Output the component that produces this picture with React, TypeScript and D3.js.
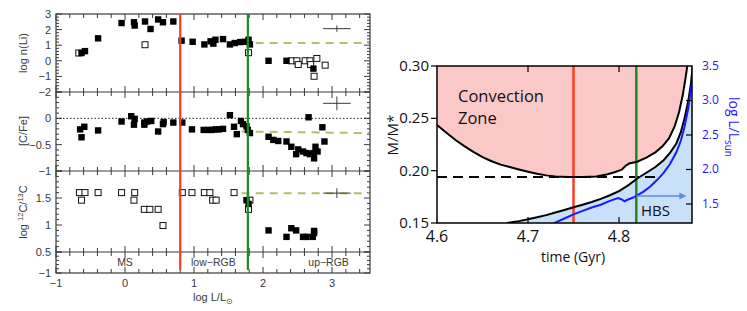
import React from 'react'
import * as d3 from 'd3'

// ---- left figure: abundances vs log L/Lsun ----
const liFilled = [
  [-0.63, 0.5], [-0.58, 0.62], [-0.39, 1.44], [-0.05, 2.42], [0.13, 2.47], [0.14, 2.26],
  [0.29, 2.52], [0.37, 2.04], [0.48, 2.65], [0.55, 2.47], [0.70, 2.52], [0.82, 1.29],
  [0.98, 1.22], [1.15, 1.05], [1.24, 1.25], [1.28, 1.10], [1.31, 1.35], [1.42, 1.39],
  [1.52, 1.05], [1.59, 1.14], [1.67, 1.2], [1.74, 1.22], [1.79, 1.35], [1.81, 1.05],
  [2.08, 0.0], [2.34, 0.0], [2.73, -0.5],
]
const liOpen = [
  [-0.67, 0.5], [0.29, 1.03], [1.79, 0.52], [2.41, 0.0], [2.49, 0.0], [2.51, -0.24],
  [2.61, 0.0], [2.68, 0.0], [2.69, -0.24], [2.78, 0.15], [2.74, -0.99], [2.9, -0.28],
]
const cfeFilled = [
  [-0.65, -0.21], [-0.59, -0.16], [-0.63, -0.36], [-0.39, -0.23], [-0.05, -0.06], [0.09, 0.04],
  [0.14, -0.01], [0.13, -0.12], [0.28, -0.08], [0.32, -0.06], [0.38, -0.05], [0.28, -0.12],
  [0.48, -0.25], [0.55, -0.11], [0.56, -0.07], [0.70, -0.08], [0.83, -0.08], [0.97, -0.21],
  [1.14, -0.22], [1.21, -0.22], [1.26, -0.22], [1.31, -0.21], [1.36, -0.21], [1.42, -0.2],
  [1.52, 0.06], [1.58, -0.16], [1.62, -0.30], [1.68, -0.05], [1.71, -0.11], [1.76, -0.15],
  [1.78, -0.22], [1.81, -0.28], [2.08, -0.35], [2.15, -0.41], [2.22, -0.43], [2.34, -0.44],
  [2.41, -0.54], [2.48, -0.68], [2.51, -0.59], [2.58, -0.63], [2.63, -0.66], [2.68, -0.68],
  [2.73, -0.66], [2.74, -0.76], [2.76, -0.54], [2.79, -0.63], [2.66, 0.02], [2.86, -0.17],
  [2.89, -0.44],
]
const c12Open = [
  [-0.66, 1.6], [-0.58, 1.6], [-0.63, 1.46], [-0.39, 1.6], [-0.05, 1.6], [0.14, 1.6],
  [0.13, 1.46], [0.28, 1.29], [0.36, 1.29], [0.48, 1.29], [0.55, 0.99], [0.83, 1.6],
  [0.97, 1.6], [1.15, 1.6], [1.23, 1.6], [1.27, 1.46], [1.32, 1.46], [1.58, 1.6],
  [1.79, 1.29], [1.81, 1.46],
]
const c12Filled = [
  [1.76, 1.46], [1.79, 1.39], [2.08, 0.90], [2.34, 0.78], [2.41, 0.94], [2.48, 0.90],
  [2.58, 0.78], [2.63, 0.78], [2.72, 0.78], [2.74, 0.89], [2.74, 0.85],
]
// model predictions (green dashed), [x, y]
const liModel = [[1.69, 1.14], [3.55, 1.14]]
const cfeModel = [[1.69, -0.25], [3.55, -0.28]]
const c12Model = [[1.69, 1.59], [3.55, 1.59]]
// typical error bars: [x, y, dx, dy]
const errLi = [3.07, 2.06, 0.2, 0.2]
const errCFe = [3.07, 0.285, 0.2, 0.13]
const errC12 = [3.07, 1.59, 0.2, 0.09]
const phaseRed = 0.8
const phaseGreen = 1.78
const phaseLabels = [['MS', 0], ['low−RGB', 1.28], ['up−RGB', 2.95]]

// ---- right figure: convection zone vs time ----
const convZone = [
  [4.600, 0.2436], [4.610, 0.2365], [4.620, 0.2295], [4.630, 0.2235], [4.640, 0.218],
  [4.650, 0.213], [4.660, 0.209], [4.670, 0.2058], [4.680, 0.2035], [4.690, 0.2012],
  [4.700, 0.199], [4.710, 0.197], [4.720, 0.1955], [4.730, 0.1945], [4.745, 0.194],
  [4.760, 0.194], [4.775, 0.1945], [4.785, 0.196], [4.795, 0.1985], [4.803, 0.201],
  [4.807, 0.2045], [4.811, 0.2068], [4.820, 0.2085], [4.830, 0.2125], [4.840, 0.2175],
  [4.848, 0.2235], [4.855, 0.231], [4.861, 0.242], [4.866, 0.256], [4.870, 0.272],
  [4.873, 0.288], [4.875, 0.300],
]
const hShell = [
  [4.677, 0.150], [4.690, 0.1518], [4.700, 0.1535], [4.710, 0.1555], [4.720, 0.1575],
  [4.730, 0.160], [4.740, 0.1625], [4.750, 0.165], [4.760, 0.1675], [4.770, 0.170],
  [4.780, 0.173], [4.790, 0.1765], [4.800, 0.1805], [4.810, 0.186], [4.820, 0.1925],
  [4.830, 0.198], [4.840, 0.2035], [4.849, 0.210], [4.856, 0.217], [4.863, 0.226],
  [4.868, 0.237], [4.872, 0.250], [4.876, 0.266], [4.879, 0.283], [4.881, 0.300],
]
const logLum = [
  [4.728, 1.22], [4.740, 1.29], [4.750, 1.35], [4.760, 1.40], [4.770, 1.45], [4.780, 1.49],
  [4.790, 1.545], [4.799, 1.585], [4.803, 1.565], [4.806, 1.54], [4.810, 1.565], [4.815, 1.59],
  [4.820, 1.625], [4.827, 1.68], [4.834, 1.75], [4.842, 1.85], [4.849, 1.95], [4.856, 2.08],
  [4.863, 2.25], [4.868, 2.42], [4.872, 2.62], [4.876, 2.88], [4.879, 3.15], [4.881, 3.35],
  [4.882, 3.5],
]
const dashedMass = 0.194
const dashedEnd = 4.843
const timeRed = 4.75
const timeGreen = 4.819
const hbsArrowEnd = 4.874
const timeTicks = [4.6, 4.7, 4.8]
const massTicks = [0.15, 0.2, 0.25, 0.3]
const lumTicks = [1.5, 2.0, 2.5, 3.0, 3.5]

const helv = '"Liberation Sans", Arial, sans-serif'
const cal = '"Open Sans", "Noto Sans", sans-serif'
const grey = '#3a3a3a'
const RED = '#ff3b1f'
const GREEN = '#1f8a22'
const LIME = '#a9c46c'
const BLUE = '#1a1aff'

const isInt = (v: number, step = 1) => Math.abs(v / step - Math.round(v / step)) < 1e-6

function Square({ x, y, open }: { x: number; y: number; open?: boolean }) {
  return open
    ? <rect x={x - 3} y={y - 3} width={6} height={6} fill="#fff" stroke="#111" strokeWidth={1} />
    : <rect x={x - 3.2} y={y - 3.2} width={6.4} height={6.4} fill="#000" />
}

function LeftFigure() {
  const x = d3.scaleLinear().domain([-1, 3.55]).range([56, 370])
  const yLi = d3.scaleLinear().domain([-2, 3]).range([92, 14])
  const yCFe = d3.scaleLinear().domain([-1, 0.5]).range([171, 92])
  const yC12 = d3.scaleLinear().domain([0.5, 2]).range([252, 171])
  const yStrip = d3.scaleLinear().domain([-1, -0.5]).range([273, 252])
  const [x0, x1] = x.range()

  const xTicks = d3.range(0, 23).map(i => -1 + i * 0.2)
  const bounds = [14, 92, 171, 252, 273]

  const yAxes = [
    { s: yLi, vals: d3.range(0, 26).map(i => -2 + i * 0.2), major: 1, labels: [3, 2, 1, 0, -1, -2] },
    { s: yCFe, vals: d3.range(0, 16).map(i => -1 + i * 0.1), major: 0.5, labels: [0, -0.5, -1] },
    { s: yC12, vals: d3.range(0, 16).map(i => 0.5 + i * 0.1), major: 0.5, labels: [1.5, 1, 0.5] },
    { s: yStrip, vals: d3.range(0, 6).map(i => -1 + i * 0.1), major: 0.5, labels: [-1] },
  ]
  const fmt = (v: number) => (v < 0 ? '−' : '') + String(Math.abs(v))
  const line = (s: d3.ScaleLinear<number, number>) => d3.line<number[]>().x(d => x(d[0])).y(d => s(d[1]))

  const err = (e: number[], s: d3.ScaleLinear<number, number>) => (
    <g stroke={grey} strokeWidth={1}>
      <line x1={x(e[0] - e[2])} x2={x(e[0] + e[2])} y1={s(e[1])} y2={s(e[1])} />
      <line x1={x(e[0])} x2={x(e[0])} y1={s(e[1] - e[3])} y2={s(e[1] + e[3])} />
    </g>
  )

  return (
    <g fontFamily={helv}>
      {/* ticks along x on every panel boundary */}
      <g stroke={grey} strokeWidth={1}>
        {bounds.map((b, bi) => xTicks.map((v, i) => {
          const len = isInt(v) ? 6 : 4
          const up = bi > 0 ? len : 0
          const down = bi < bounds.length - 1 ? len : 0
          return <line key={bi + '-' + i} x1={x(v)} x2={x(v)} y1={b - up} y2={b + down} />
        }))}
        {yAxes.map((a, ai) => a.vals.map((v, i) => {
          const len = isInt(v, a.major) ? 6 : 3
          return (
            <g key={ai + '-' + i}>
              <line x1={x0} x2={x0 + len} y1={a.s(v)} y2={a.s(v)} />
              <line x1={x1} x2={x1 - len} y1={a.s(v)} y2={a.s(v)} />
            </g>
          )
        }))}
      </g>
      {/* dotted solar line */}
      <line x1={x0} x2={x1} y1={yCFe(0)} y2={yCFe(0)} stroke="#222" strokeWidth={1} strokeDasharray="1.5 2" />

      {/* model predictions */}
      <path d={line(yLi)(liModel)!} stroke={LIME} strokeWidth={2} strokeDasharray="8 6" fill="none" />
      <path d={line(yCFe)(cfeModel)!} stroke={LIME} strokeWidth={2} strokeDasharray="8 6" fill="none" />
      <path d={line(yC12)(c12Model)!} stroke={LIME} strokeWidth={2} strokeDasharray="8 6" fill="none" />

      {err(errLi, yLi)}
      {err(errCFe, yCFe)}
      {err(errC12, yC12)}

      {liOpen.map((d, i) => <Square key={'lo' + i} x={x(d[0])} y={yLi(d[1])} open />)}
      {liFilled.map((d, i) => <Square key={'lf' + i} x={x(d[0])} y={yLi(d[1])} />)}
      {cfeFilled.map((d, i) => <Square key={'cf' + i} x={x(d[0])} y={yCFe(d[1])} />)}
      {c12Open.map((d, i) => <Square key={'co' + i} x={x(d[0])} y={yC12(d[1])} open />)}
      {c12Filled.map((d, i) => <Square key={'cc' + i} x={x(d[0])} y={yC12(d[1])} />)}

      {/* frame */}
      <rect x={x0} y={14} width={x1 - x0} height={259} fill="none" stroke={grey} strokeWidth={1.2} />
      {bounds.slice(1, 4).map(b => <line key={b} x1={x0} x2={x1} y1={b} y2={b} stroke={grey} strokeWidth={1.2} />)}

      {/* evolutionary phase markers */}
      <line x1={x(phaseRed)} x2={x(phaseRed)} y1={14} y2={270} stroke={RED} strokeWidth={2.2} />
      <line x1={x(phaseGreen)} x2={x(phaseGreen)} y1={14} y2={270} stroke={GREEN} strokeWidth={2.2} />

      <g fontSize={10.5} fill={grey}>
        {phaseLabels.map(([t, v]) => (
          <text key={t as string} x={x(v as number)} y={266} textAnchor="middle">{t}</text>
        ))}
      </g>

      {/* tick labels */}
      <g fontSize={11} fill={grey} textAnchor="end">
        {yAxes.map((a, ai) => a.labels.map(v => (
          <text key={ai + 'l' + v} x={51} y={a.s(v) + 4}>{fmt(v)}</text>
        )))}
      </g>
      <g fontSize={11} fill={grey} textAnchor="middle">
        {[-1, 0, 1, 2, 3].map(v => <text key={v} x={x(v)} y={287}>{fmt(v)}</text>)}
      </g>

      {/* axis titles */}
      <g fontSize={11} fill={grey} textAnchor="middle">
        <text transform="translate(27,53) rotate(-90)">log n(Li)</text>
        <text transform="translate(27,131) rotate(-90)">[C/Fe]</text>
        <text transform="translate(27,212) rotate(-90)">
          log <tspan fontSize={7.5} dy={-4}>12</tspan><tspan dy={4}>C/</tspan>
          <tspan fontSize={7.5} dy={-4}>13</tspan><tspan dy={4}>C</tspan>
        </text>
        <text x={213} y={301}>
          log L/L<tspan fontSize={8} dy={3}>⊙</tspan>
        </text>
      </g>
    </g>
  )
}

function RightFigure() {
  const x = d3.scaleLinear().domain([4.6, 4.8802]).range([437, 692])
  const y = d3.scaleLinear().domain([0.15, 0.30]).range([223, 66])
  const yL = d3.scaleLinear().domain([1.2246, 3.5]).range([223, 66])
  const [x0, x1] = x.range()
  const [yb, yt] = y.range()

  const mLine = d3.line<number[]>().x(d => x(d[0])).y(d => y(d[1]))
  const lLine = d3.line<number[]>().x(d => x(d[0])).y(d => yL(d[1]))
  const pink = d3.area<number[]>().x(d => x(d[0])).y0(yt).y1(d => y(d[1]))
  const blue = d3.area<number[]>().x(d => x(d[0])).y0(yb).y1(d => y(d[1]))

  const lumAtGreen = 1.616
  const ay = yL(lumAtGreen)
  const ax1 = x(hbsArrowEnd)

  return (
    <g fontFamily={cal}>
      <defs>
        <clipPath id="rclip"><rect x={x0} y={yt} width={x1 - x0} height={yb - yt} /></clipPath>
      </defs>
      <g clipPath="url(#rclip)">
        <path d={blue([...hShell, [4.8802, 0.30]])!} fill="#c8e0f8" />
        <path d={pink(convZone)!} fill="#fbc8c8" />
        <line x1={x(4.6)} x2={x(dashedEnd)} y1={y(dashedMass)} y2={y(dashedMass)}
          stroke="#000" strokeWidth={2} strokeDasharray="10 6" />
        <line x1={x(timeRed)} x2={x(timeRed)} y1={yt} y2={yb} stroke={RED} strokeWidth={2.5} />
        <line x1={x(timeGreen)} x2={x(timeGreen)} y1={yt} y2={yb} stroke={GREEN} strokeWidth={2.5} />
        <path d={mLine(convZone)!} fill="none" stroke="#000" strokeWidth={2} />
        <path d={mLine(hShell)!} fill="none" stroke="#000" strokeWidth={2} />
        <path d={lLine(logLum)!} fill="none" stroke={BLUE} strokeWidth={2} />
        <line x1={x(timeGreen)} x2={ax1 - 5} y1={ay} y2={ay} stroke="#5b8fe0" strokeWidth={1.5} />
        <path d={`M${ax1},${ay} L${ax1 - 7},${ay - 3.5} L${ax1 - 7},${ay + 3.5} Z`} fill="#5b8fe0" />
      </g>

      {/* frame and ticks */}
      <rect x={x0} y={yt} width={x1 - x0} height={yb - yt} fill="none" stroke="#000" strokeWidth={1.5} />
      <g stroke="#000" strokeWidth={1.2}>
        {massTicks.map(v => <line key={'m' + v} x1={x0 - 6} x2={x0} y1={y(v)} y2={y(v)} />)}
        {timeTicks.slice(1).map(v => (
          <g key={'t' + v}>
            <line x1={x(v)} x2={x(v)} y1={yb} y2={yb - 6} />
            <line x1={x(v)} x2={x(v)} y1={yt} y2={yt + 6} />
          </g>
        ))}
        {lumTicks.slice(0, 4).map(v => <line key={'l' + v} x1={x1} x2={x1 - 6} y1={yL(v)} y2={yL(v)} />)}
      </g>

      <g fontSize={15} fill="#111" textAnchor="end">
        {massTicks.map(v => <text key={v} x={x0 - 8} y={y(v) + 5}>{v.toFixed(2)}</text>)}
      </g>
      <g fontSize={16} fill="#111" textAnchor="middle">
        {timeTicks.map(v => <text key={v} x={x(v)} y={yb + 19}>{v.toFixed(1)}</text>)}
      </g>
      <g fontSize={12} fill={BLUE}>
        {lumTicks.map(v => <text key={v} x={x1 + 10} y={yL(v) + 4}>{v.toFixed(1)}</text>)}
      </g>

      <text x={573} y={262} fontSize={14} fill="#111" textAnchor="middle">time (Gyr)</text>
      <text transform="translate(398,135) rotate(-90)" fontSize={15} fill="#111" textAnchor="middle">M/M*</text>
      <text transform="translate(729,127) rotate(90)" fontSize={14} fill={BLUE} textAnchor="middle">
        log L/L<tspan fontSize={10} dy={4}>sun</tspan>
      </text>

      <text x={458} y={102} fontSize={16.5} fill="#111">Convection</text>
      <text x={458} y={124} fontSize={16.5} fill="#111">Zone</text>
      <text x={641} y={216} fontSize={15} fill="#111">HBS</text>
    </g>
  )
}

export default function App() {
  return (
    <svg width={747} height={311} viewBox="0 0 747 311"
      style={{ position: 'absolute', left: 0, top: 0, background: '#fff' }}>
      <rect width={747} height={311} fill="#fff" />
      <LeftFigure />
      <RightFigure />
    </svg>
  )
}
